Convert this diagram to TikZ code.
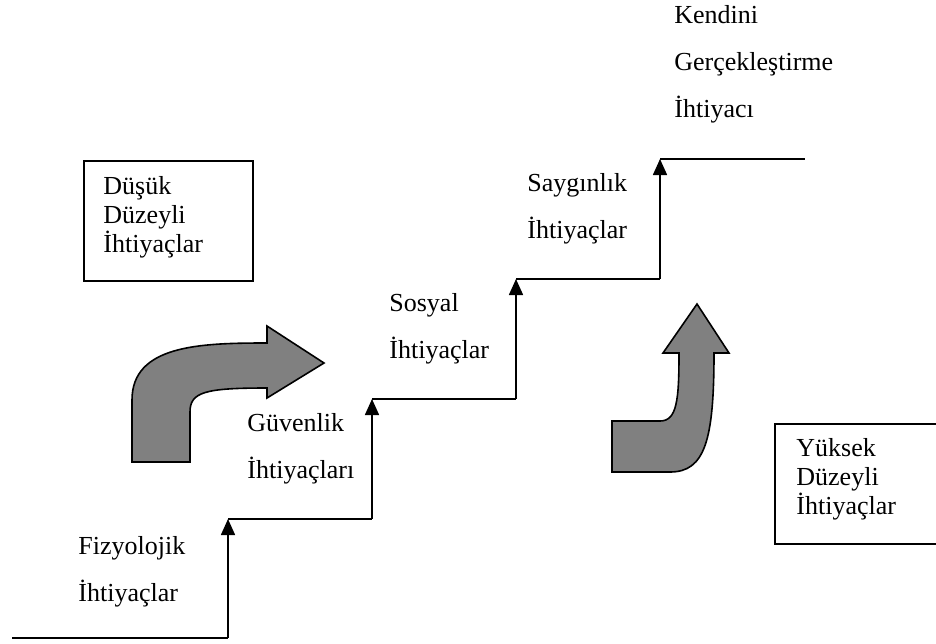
\documentclass[tikz,border=0pt]{standalone}
\usepackage{fontspec}
\setmainfont{Liberation Serif}
\usepackage{tikz}
\usetikzlibrary{arrows.meta, positioning}
\tikzstyle{stair} = [thick]
\tikzstyle{rise} = [thick,-{Triangle[length=8pt,width=7pt]}]
\tikzstyle{need} = [inner sep=0pt,anchor=base west,align=left,font=\fontsize{13pt}{23.5pt}\selectfont]
\tikzstyle{levelbox} = [thick,draw=black,rectangle,anchor=north west,inner sep=0pt]
\tikzstyle{boxtext} = [inner sep=0pt,anchor=base west,align=left,font=\fontsize{13pt}{14.5pt}\selectfont]
\tikzstyle{bendarrow} = [thick,draw=black,fill=gray,line join=miter]

\begin{document}
\begin{tikzpicture}[x=0.5pt,y=-0.5pt]
	\clip (0,0) rectangle (936,643);
	% merdiven
	\coordinate (floor) at (12,638);
	\coordinate (c1) at (228,638);
	\coordinate (l1) at (228,519);
	\coordinate (c2) at (372,519);
	\coordinate (l2) at (372,399);
	\coordinate (c3) at (516,399);
	\coordinate (l3) at (516,279);
	\coordinate (c4) at (660,279);
	\coordinate (l4) at (660,159);
	\coordinate (top) at (805,159);
	
	\draw[stair] (floor) -- (c1);
	\draw[rise] (c1) -- (l1);
	\draw[stair] (l1) -- (c2);
	\draw[rise] (c2) -- (l2);
	\draw[stair] (l2) -- (c3);
	\draw[rise] (c3) -- (l3);
	\draw[stair] (l3) -- (c4);
	\draw[rise] (c4) -- (l4);
	\draw[stair] (l4) -- (top);
	
	% oklar
	\draw[bendarrow] (132,462) -- (132,400) .. controls (132,345) and (200,343) .. (267,343)
		-- (267,326) -- (324,363) -- (267,398) -- (267,388)
		.. controls (205,388) and (190,392) .. (190,412) -- (190,462) -- cycle;
	\draw[bendarrow] (612,472) -- (612,421) -- (660,421) .. controls (677,421) and (679,400) .. (679,353)
		-- (663,353) -- (697,304) -- (729,353) -- (714,353)
		.. controls (714,440) and (705,472) .. (670,472) -- cycle;
	
	% basamaklar (son satir tabani)
	\node [need] (fizyolojik) at (78,601) {Fizyolojik\\İhtiyaçlar};
	\node [need] (guvenlik) at (247,478) {Güvenlik\\İhtiyaçları};
	\node [need] (sosyal) at (389,358) {Sosyal\\İhtiyaçlar};
	\node [need] (saygi) at (527,238) {Saygınlık\\İhtiyaçlar};
	\node [need] (kendini) at (674,117) {Kendini\\Gerçekleştirme\\İhtiyacı};
	
	% kutular
	\node [levelbox, minimum width=84.5pt, minimum height=60pt] (dusukbox) at (83,160) {};
	\node [boxtext] (dusuk) at (103,252) {Düşük\\Düzeyli\\İhtiyaçlar};
	\node [levelbox, minimum width=90pt, minimum height=60pt] (yuksekbox) at (774,423) {};
	\node [boxtext] (yuksek) at (796,514) {Yüksek\\Düzeyli\\İhtiyaçlar};
\end{tikzpicture}
\end{document}
